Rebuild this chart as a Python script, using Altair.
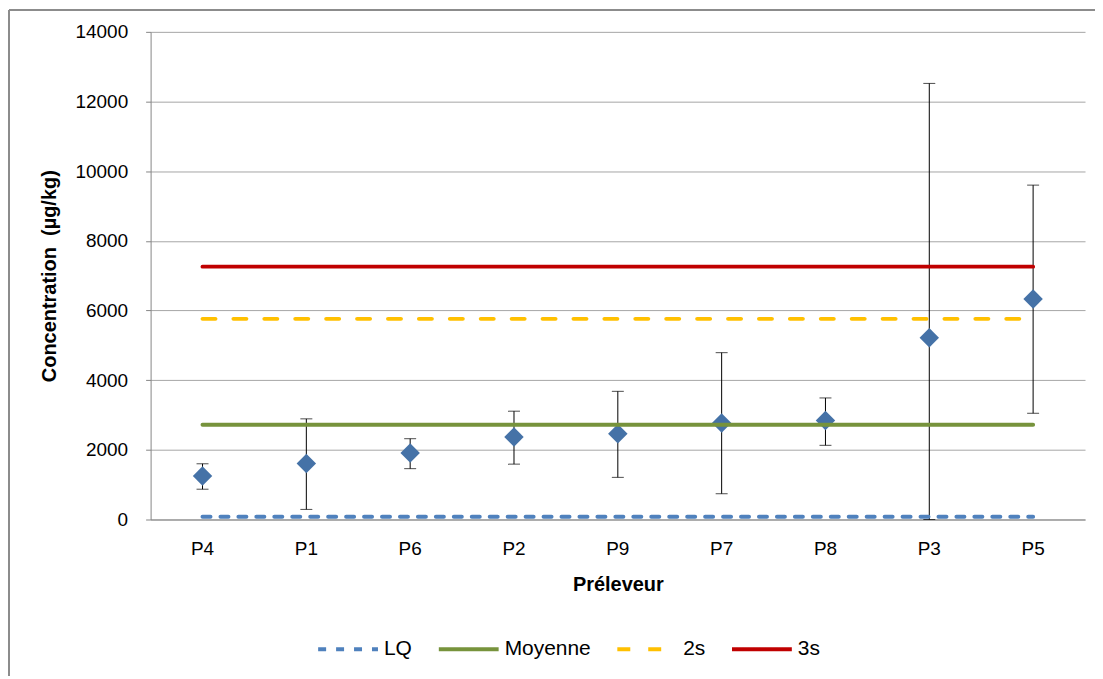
import altair as alt
import pandas as pd

categories = ["P4", "P1", "P6", "P2", "P9", "P7", "P8", "P3", "P5"]
means = [1250, 1610, 1910, 2370, 2460, 2770, 2840, 5220, 6330]
err_low = [870, 290, 1460, 1590, 1210, 740, 2130, 0, 3050]
err_high = [1600, 2890, 2320, 3110, 3680, 4790, 3490, 12520, 9600]

series_names = ["LQ", "Moyenne", "2s", "3s"]
series_values = [80, 2720, 5760, 7260]
series_colors = ["#4F81BD", "#77933C", "#FFC000", "#C00000"]
series_dashes = [[8, 10], [1, 0], [13, 18], [1, 0]]

y_ticks = [0, 2000, 4000, 6000, 8000, 10000, 12000, 14000]

FONT = "Liberation Sans"
W, H = 937, 489

pts = pd.DataFrame({"cat": categories, "mean": means, "lo": err_low, "hi": err_high})
lines = pd.DataFrame(
    [{"cat": c, "series": s, "val": v} for s, v in zip(series_names, series_values) for c in categories]
)

xenc = alt.X(
    "cat:N",
    sort=categories,
    scale=alt.Scale(paddingInner=0, paddingOuter=0),
    axis=alt.Axis(
        title="Préleveur",
        titleFont=FONT,
        titleFontSize=20,
        titleFontWeight="bold",
        titleColor="#000000",
        titleY=65,
        titleBaseline="middle",
        labelFont=FONT,
        labelFontSize=19,
        labelColor="#000000",
        labelPadding=20,
        labelAngle=0,
        ticks=False,
        domainColor="#868686",
        grid=False,
    ),
)

yscale = alt.Scale(domain=[0, 14000], nice=False)
yaxis = alt.Axis(
    values=y_ticks,
    format="d",
    title="Concentration \u00a0(µg/kg)",
    titleFont=FONT,
    titleFontSize=20,
    titleFontWeight="bold",
    titleColor="#000000",
    titleX=-101,
    titleBaseline="middle",
    labelFont=FONT,
    labelFontSize=19,
    labelColor="#000000",
    labelPadding=18,
    tickSize=5,
    tickColor="#868686",
    domainColor="#868686",
    grid=True,
    gridColor="#a6a6a6",
    gridWidth=1,
)

frame_src = pd.DataFrame({"k": [0]})
frame_top = alt.Chart(frame_src).mark_rule(stroke="#8c8c8c", strokeWidth=2).encode(
    x=alt.value(-142), x2=alt.value(2000), y=alt.value(-22)
)
frame_left = alt.Chart(frame_src).mark_rule(stroke="#8c8c8c", strokeWidth=2).encode(
    x=alt.value(-142), y=alt.value(-22), y2=alt.value(2000)
)

err_rule = alt.Chart(pts).mark_rule(color="#000000", strokeWidth=1).encode(
    x=xenc, y=alt.Y("lo:Q", scale=yscale, axis=yaxis), y2="hi:Q"
)
err_top = alt.Chart(pts).mark_tick(color="#000000", thickness=1, size=12).encode(
    x=alt.X("cat:N", sort=categories), y=alt.Y("hi:Q", scale=yscale)
)
err_bot = alt.Chart(pts).mark_tick(color="#000000", thickness=1, size=12).encode(
    x=alt.X("cat:N", sort=categories), y=alt.Y("lo:Q", scale=yscale)
)
points = alt.Chart(pts).mark_point(
    shape="diamond", filled=True, size=380, color="#4572A7", opacity=1
).encode(x=alt.X("cat:N", sort=categories), y=alt.Y("mean:Q", scale=yscale))

line_layer = alt.Chart(lines).mark_line(strokeWidth=4, strokeCap="round").encode(
    x=alt.X("cat:N", sort=categories),
    y=alt.Y("val:Q", scale=yscale),
    color=alt.Color(
        "series:N",
        scale=alt.Scale(domain=series_names, range=series_colors),
        legend=alt.Legend(
            title=None,
            orient="none",
            legendX=166,
            legendY=587,
            direction="horizontal",
            symbolType="stroke",
            symbolSize=3600,
            symbolStrokeWidth=4,
            labelFont=FONT,
            labelFontSize=21,
            labelColor="#000000",
            labelOffset=4,
            columnPadding=18,
        ),
    ),
    strokeDash=alt.StrokeDash(
        "series:N",
        scale=alt.Scale(domain=series_names, range=series_dashes),
        legend=None,
    ),
    detail="series:N",
)

chart = (
    alt.layer(frame_top, frame_left, err_rule, err_top, err_bot, points, line_layer)
    .properties(
        width=W,
        height=H,
        autosize=alt.AutoSizeParams(type="none"),
        padding={"left": 143, "top": 23, "right": 10, "bottom": 156},
    )
    .configure_view(strokeWidth=0, stroke="transparent")
)

chart.save("out.html", embed_options={"renderer": "svg", "actions": False})
